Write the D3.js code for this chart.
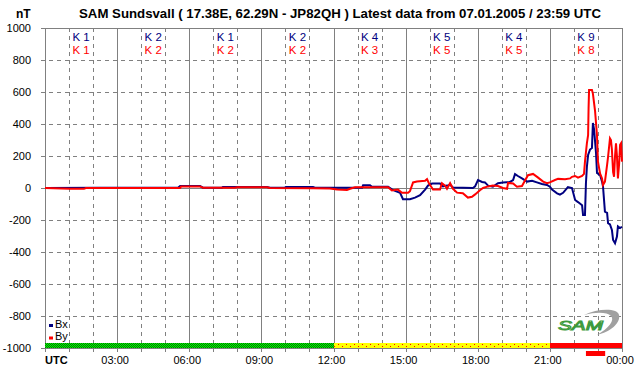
<!DOCTYPE html>
<html><head><meta charset="utf-8">
<script src="https://cdn.jsdelivr.net/npm/d3@7/dist/d3.min.js"></script>
<style>
body{margin:0;background:#fff;}
svg{display:block;font-family:"Liberation Sans",Arial,sans-serif;}
</style>
</head><body>
<svg id="chart" width="642" height="376"></svg>
<script>
// ---------- data ----------
const titleText = "SAM Sundsvall ( 17.38E, 62.29N - JP82QH ) Latest data from 07.01.2005 / 23:59 UTC";
const unitLabel = "nT";
const yTickValues = [1000, 800, 600, 400, 200, 0, -200, -400, -600, -800, -1000];
const xTickHours = [0, 3, 6, 9, 12, 15, 18, 21, 24];
const xTickLabels = ["UTC", "03:00", "06:00", "09:00", "12:00", "15:00", "18:00", "21:00", "00:00"];
const kBx = ["K 1", "K 2", "K 1", "K 2", "K 4", "K 5", "K 4", "K 9"];
const kBy = ["K 1", "K 2", "K 2", "K 2", "K 3", "K 5", "K 5", "K 8"];
const activityFrom = [0, 12, 21];
const activityTo = [12, 21, 24];
const activityLevel = ["quiet", "active", "storm"];
const markerFrom = 22.5, markerTo = 23.3;

const bxHours = [0, 2.29, 5.53, 5.62, 6.45, 6.57, 7.36, 7.40, 9.23, 9.36, 9.98, 10.02, 11.15, 11.23, 13.19, 13.23, 13.52, 13.60, 14.27, 14.43, 14.56, 14.77, 14.89, 15.18, 15.39, 15.60, 15.81, 15.93, 16.10, 16.43, 16.55, 16.72, 16.85, 16.97, 17.80, 17.89, 18.01, 18.18, 18.30, 18.43, 18.63, 18.84, 19.05, 19.34, 19.47, 19.55, 19.67, 19.84, 20.05, 20.26, 20.46, 20.67, 20.88, 21.00, 21.09, 21.30, 21.42, 21.55, 21.75, 21.92, 22.05, 22.17, 22.34, 22.38, 22.46, 22.50, 22.54, 22.59, 22.67, 22.75, 22.79, 22.84, 22.92, 22.96, 23.09, 23.17, 23.21, 23.29, 23.38, 23.42, 23.50, 23.58, 23.63, 23.71, 23.79, 23.83, 23.92, 24.0];
const bxValues = [0, 2, 2, 12, 12, 2, 2, 6, 6, 2, 2, 6, 6, 2, 2, 17, 17, 8, 8, -8, -18, -30, -70, -70, -60, -45, -10, 15, 28, 28, 10, 15, 20, 3, 0, 10, 50, 38, 35, 15, 8, 30, 35, 38, 50, 87, 75, 60, 40, 45, 35, 25, 19, 8, -10, -33, -42, -30, 6, 0, -75, -88, -108, -169, -169, 30, 133, 206, 240, 250, 406, 365, 218, 94, 80, 40, 10, -148, -155, -220, -228, -262, -325, -345, -304, -240, -250, -242];

const byHours = [0, 1.04, 1.62, 1.70, 5.62, 5.66, 6.45, 6.57, 7.90, 8.00, 9.23, 9.36, 11.15, 11.85, 12.15, 12.56, 12.69, 12.90, 14.27, 14.43, 14.68, 14.85, 15.10, 15.18, 15.31, 15.47, 15.81, 15.89, 15.97, 16.14, 16.43, 16.51, 16.64, 16.72, 16.85, 16.97, 17.14, 17.38, 17.59, 17.76, 17.89, 18.09, 18.22, 18.43, 18.63, 18.84, 19.05, 19.22, 19.26, 19.47, 19.63, 19.84, 19.96, 20.09, 20.30, 20.51, 20.72, 20.88, 21.00, 21.21, 21.34, 21.63, 21.84, 21.92, 22.05, 22.17, 22.34, 22.42, 22.46, 22.54, 22.59, 22.61, 22.63, 22.75, 22.79, 22.88, 22.96, 23.00, 23.09, 23.17, 23.21, 23.29, 23.38, 23.42, 23.50, 23.54, 23.58, 23.63, 23.67, 23.71, 23.75, 23.79, 23.83, 23.88, 23.92, 23.96, 24.0];
const byValues = [0, -5, -5, 0, 0, 10, 10, 2, 2, 5, 5, 0, -2, -3, -10, -12, -5, 5, 5, -15, -10, -30, -30, -20, 35, 40, 45, 55, 30, -10, -10, 30, 15, -5, 30, -5, -29, -33, -60, -55, -40, -14, 0, 10, 15, 12, 0, -5, 32, 28, 8, 12, 45, 80, 88, 65, 40, 30, 35, 50, 57, 55, 60, 70, 75, 65, 75, 88, 165, 280, 330, 500, 612, 612, 590, 480, 330, 165, 90, 60, 19, 40, 145, 195, 310, 300, 240, 100, 70, 200, 280, 200, 60, 150, 270, 280, 165];

const seriesNames = ["Bx", "By"];
const seriesColors = ["#000080", "#ff0000"];

// ---------- drawing ----------
const svg = d3.select("#chart");
const L = 45, R = 622, T = 28, B = 348;
const x = d3.scaleLinear().domain([0, 24]).range([L, R]);
const y = d3.scaleLinear().domain([-1000, 1000]).range([B, T]);
const grid = "#808080";

const defs = svg.append("defs");
const pg = defs.append("pattern").attr("id", "quiet").attr("width", 2).attr("height", 2).attr("patternUnits", "userSpaceOnUse");
pg.append("rect").attr("width", 2).attr("height", 2).attr("fill", "#00ff00");
pg.append("rect").attr("width", 1).attr("height", 1).attr("fill", "#007000");
pg.append("rect").attr("x", 1).attr("y", 1).attr("width", 1).attr("height", 1).attr("fill", "#007000");
const py = defs.append("pattern").attr("id", "active").attr("width", 8).attr("height", 4).attr("patternUnits", "userSpaceOnUse").attr("y", 343);
py.append("rect").attr("width", 8).attr("height", 4).attr("fill", "#ffff00");
py.append("rect").attr("x", 2).attr("y", 1).attr("width", 1).attr("height", 1).attr("fill", "#ff0000");
py.append("rect").attr("x", 6).attr("y", 3).attr("width", 1).attr("height", 1).attr("fill", "#ff0000");
const fills = {quiet: "url(#quiet)", active: "url(#active)", storm: "#ff0000"};

// title
svg.append("text").attr("x", 79).attr("y", 18).attr("font-weight", "bold").attr("font-size", 12)
  .attr("textLength", 522).attr("lengthAdjust", "spacingAndGlyphs").text(titleText);
svg.append("text").attr("x", 16).attr("y", 18).attr("font-weight", "bold").attr("font-size", 12).text(unitLabel);

// grid
const gg = svg.append("g").attr("shape-rendering", "crispEdges");
d3.range(0, 25).forEach(h => {
  const solid = h % 3 === 0;
  gg.append("line").attr("x1", Math.round(x(h)) + 0.5).attr("x2", Math.round(x(h)) + 0.5)
    .attr("y1", T).attr("y2", B + 4).attr("stroke", grid)
    .attr("stroke-dasharray", solid ? null : "4,4");
});
yTickValues.forEach(v => {
  const solid = v === 0 || Math.abs(v) === 1000;
  gg.append("line").attr("x1", L - 4).attr("x2", R).attr("y1", Math.round(y(v)) + 0.5).attr("y2", Math.round(y(v)) + 0.5)
    .attr("stroke", grid).attr("stroke-dasharray", solid ? null : "4,4");
});
d3.range(0, 25).forEach(h => {
  gg.append("line").attr("x1", Math.round(x(h)) + 0.5).attr("x2", Math.round(x(h)) + 0.5)
    .attr("y1", B).attr("y2", B + 4).attr("stroke", grid);
});

// y labels
svg.append("g").selectAll("text").data(yTickValues).join("text")
  .attr("x", 31).attr("y", d => y(d) + 4).attr("text-anchor", "end").attr("font-size", 11).text(d => d);

// x labels
svg.append("g").selectAll("text").data(xTickHours).join("text")
  .attr("x", (d, i) => i === 0 ? x(d) : x(d) - 2)
  .attr("y", 364).attr("text-anchor", (d, i) => i === 0 ? "start" : "middle")
  .attr("font-size", 11).attr("font-weight", (d, i) => i === 0 ? "bold" : null)
  .text((d, i) => xTickLabels[i]);

// activity bar
svg.append("g").attr("shape-rendering", "crispEdges").selectAll("rect").data(activityLevel).join("rect")
  .attr("x", (d, i) => x(activityFrom[i])).attr("width", (d, i) => x(activityTo[i]) - x(activityFrom[i]))
  .attr("y", 343).attr("height", 5).attr("fill", d => fills[d]);
svg.append("rect").attr("x", x(markerFrom)).attr("width", x(markerTo) - x(markerFrom))
  .attr("y", 351).attr("height", 5).attr("fill", "#ff0000");

// logo
const logo = svg.append("g");
logo.append("path").attr("d", "M584,315 C598,308 618,308 619,315 C621,323 610,332 597,335 C609,328 615,320 611,316 C607,312 596,312 584,315 Z")
  .attr("fill", "#a0a0a0");
logo.append("text").attr("x", 558).attr("y", 330).attr("font-size", 12).attr("font-style", "italic")
  .attr("textLength", 45).attr("lengthAdjust", "spacingAndGlyphs")
  .attr("fill", "#eef6ee").attr("stroke", "#3c9a3c").attr("stroke-width", 0.9).text("SAM");

// lines
const line = d3.line().x(d => x(d[0])).y(d => y(d[1]));
svg.append("path").datum(d3.zip(bxHours, bxValues)).attr("d", line)
  .attr("fill", "none").attr("stroke", seriesColors[0]).attr("stroke-width", 2).attr("stroke-linejoin", "miter");
svg.append("path").datum(d3.zip(byHours, byValues)).attr("d", line)
  .attr("fill", "none").attr("stroke", seriesColors[1]).attr("stroke-width", 2).attr("stroke-linejoin", "miter");

// K labels
const kg = svg.append("g").attr("font-size", 11.5).attr("text-anchor", "middle");
kBx.forEach((k, i) => kg.append("text").attr("x", x(i * 3 + 1.5)).attr("y", 41).attr("fill", seriesColors[0]).text(k));
kBy.forEach((k, i) => kg.append("text").attr("x", x(i * 3 + 1.5)).attr("y", 54).attr("fill", seriesColors[1]).text(k));

// legend
seriesNames.forEach((n, i) => {
  svg.append("rect").attr("x", 49).attr("y", 324 + i * 12.5).attr("width", 4).attr("height", 3).attr("fill", seriesColors[i]);
  svg.append("text").attr("x", 55).attr("y", 328 + i * 12).attr("font-size", 11).text(n);
});
</script>
</body></html>
